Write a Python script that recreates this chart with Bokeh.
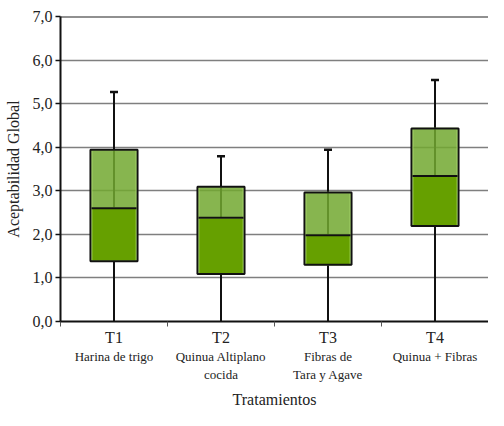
from bokeh.plotting import figure
from bokeh.models import LinearAxis, FixedTicker, Span, ColumnDataSource
from bokeh.embed import file_html
from bokeh.resources import INLINE

# ---- data ----
codes = ["T1", "T2", "T3", "T4"]
names = ["Harina de trigo", "Quinua Altiplano\ncocida", "Fibras de\nTara y Agave", "Quinua + Fibras"]
q1 = [1.38, 1.09, 1.30, 2.19]
median = [2.60, 2.38, 1.98, 3.34]
q3 = [3.94, 3.09, 2.96, 4.43]
whisk_low = [0.0, 0.0, 0.0, 0.0]
whisk_high = [5.27, 3.79, 3.94, 5.54]
y_ticks = [0, 1, 2, 3, 4, 5, 6, 7]
y_tick_labels = ["0,0", "1,0", "2,0", "3,0", "4,0", "5,0", "6,0", "7,0"]

xs = list(range(1, len(codes) + 1))
FONT = "Liberation Serif, serif"
W = 0.42

src = ColumnDataSource(dict(x=xs, q1=q1, med=median, q3=q3, lo=whisk_low, hi=whisk_high,
                            xl=[x - W / 2 for x in xs], xr=[x + W / 2 for x in xs]))

p = figure(width=488, height=410, output_backend="svg", toolbar_location=None,
           x_range=(0.5, 4.5), y_range=(0, 7),
           min_border_left=60, min_border_right=0, min_border_top=16, min_border_bottom=0)
p.outline_line_color = None
p.background_fill_color = "white"

# grid
p.xgrid.grid_line_color = None
p.ygrid.ticker = FixedTicker(ticks=y_ticks)
p.ygrid.grid_line_color = "#7f7f7f"
p.ygrid.grid_line_width = 1.5
p.add_layout(Span(location=7, dimension="width", line_color="#222222", line_width=1.8))

# y axis
p.yaxis.ticker = FixedTicker(ticks=y_ticks)
p.yaxis.major_label_overrides = {t: l for t, l in zip(y_ticks, y_tick_labels)}
p.yaxis.axis_label = "Aceptabilidad Global"
p.yaxis.axis_label_text_font = FONT
p.yaxis.axis_label_text_font_style = "normal"
p.yaxis.axis_label_text_font_size = "16px"
p.yaxis.axis_label_text_color = "#222222"
p.yaxis.axis_label_standoff = 8
p.yaxis.major_label_text_font = FONT
p.yaxis.major_label_text_font_size = "16px"
p.yaxis.major_label_text_color = "#222222"
p.yaxis.axis_line_width = 2
p.yaxis.axis_line_color = "#111111"
p.yaxis.major_tick_line_color = "#111111"
p.yaxis.major_tick_line_width = 1.5
p.yaxis.major_tick_out = 5
p.yaxis.major_tick_in = 0
p.yaxis.minor_tick_line_color = None
p.yaxis.major_label_standoff = 3

# x axis: line + boundary ticks (no labels)
boundaries = [0.5, 1.5, 2.5, 3.5, 4.5]
p.xaxis.ticker = FixedTicker(ticks=boundaries)
p.xaxis.major_label_overrides = {b: "" for b in boundaries}
p.xaxis.major_label_standoff = 0
p.xaxis.axis_line_width = 2
p.xaxis.axis_line_color = "#111111"
p.xaxis.major_tick_line_color = "#555555"
p.xaxis.major_tick_line_width = 1
p.xaxis.major_tick_out = 5
p.xaxis.major_tick_in = 0
p.xaxis.minor_tick_line_color = None

# x axis: codes
ax2 = LinearAxis(ticker=FixedTicker(ticks=xs),
                 major_label_overrides={x: c for x, c in zip(xs, codes)},
                 axis_line_color=None, major_tick_line_color=None, minor_tick_line_color=None,
                 major_tick_out=0, major_tick_in=0, major_label_standoff=2,
                 major_label_text_font=FONT, major_label_text_font_size="16px",
                 major_label_text_color="#222222")
p.add_layout(ax2, "below")

# x axis: names + title
ax3 = LinearAxis(ticker=FixedTicker(ticks=xs),
                 major_label_overrides={x: n for x, n in zip(xs, names)},
                 axis_line_color=None, major_tick_line_color=None, minor_tick_line_color=None,
                 major_tick_out=0, major_tick_in=0, major_label_standoff=0,
                 major_label_text_font=FONT, major_label_text_font_size="13px",
                 major_label_text_color="#222222",
                 axis_label="Tratamientos", axis_label_text_font=FONT,
                 axis_label_text_font_style="normal", axis_label_text_font_size="16px",
                 axis_label_text_color="#222222", axis_label_standoff=6)
p.add_layout(ax3, "below")

# whiskers
p.segment(x0="x", y0="lo", x1="x", y1="hi", source=src, line_color="#111111", line_width=2)
p.scatter(x="x", y="hi", source=src, marker="dash", size=8, line_color="#111111", line_width=2.5)

# lower half (opaque), upper half (translucent)
p.vbar(x="x", bottom="q1", top="med", width=W, source=src,
       fill_color="#66a000", fill_alpha=1.0, line_color="#b8ea78", line_width=1.5)
p.vbar(x="x", bottom="med", top="q3", width=W, source=src,
       fill_color="#72a830", fill_alpha=0.85, line_color="#b8ea78", line_width=1.5)
# black outlines
p.vbar(x="x", bottom="q1", top="q3", width=W + 0.02, source=src,
       fill_color=None, line_color="#111111", line_width=2)
p.segment(x0="xl", y0="med", x1="xr", y1="med", source=src, line_color="#111111", line_width=2)

open("out.html", "w").write(file_html(p, INLINE))
